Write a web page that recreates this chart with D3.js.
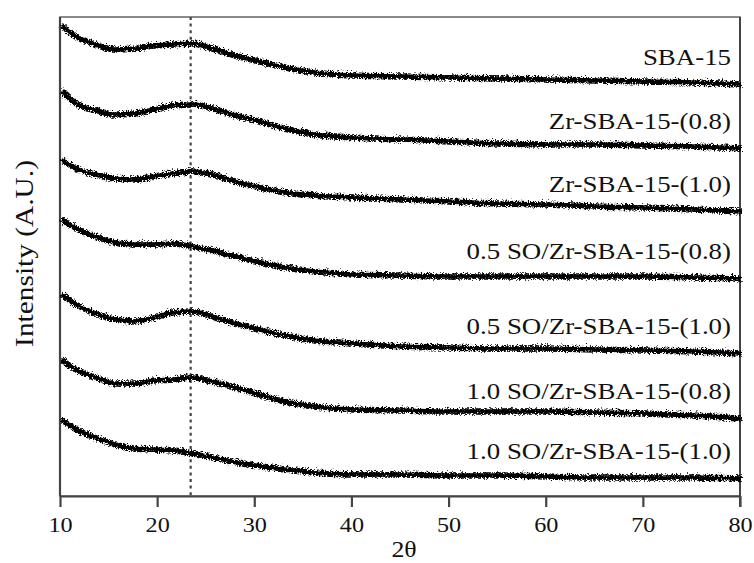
<!DOCTYPE html>
<html>
<head>
<meta charset="utf-8">
<script src="https://cdn.jsdelivr.net/npm/d3@7"></script>
<style>
  body { margin: 0; background: #fff; }
  svg text { font-family: "Liberation Serif", "Times New Roman", serif; fill: #111; }
</style>
</head>
<body>
<div id="xrd"></div>
<script>
// 2 theta positions (deg) where the traces were read
var twoTheta = [10, 11.5, 13.5, 15.5, 17.5, 19.5, 21.5, 23.5, 25.5, 27.5, 30, 33, 36, 40, 45, 50, 55, 60, 65, 70, 75, 80];

// stacked intensities (A.U.), top trace first
var sba15       = [472, 461, 453, 448, 449, 452, 453, 454, 449, 443, 437, 430, 425, 422, 421, 420, 419, 418, 417, 416, 415, 413];
var zrSba08     = [407, 394, 387, 383, 384, 388, 392, 393, 389, 383, 377, 369, 363, 360, 358, 356, 354, 353, 353, 352, 351, 349];
var zrSba10     = [338, 329, 323, 319, 318, 321, 324, 326, 323, 317, 311, 305, 302, 300, 298, 296, 294, 293, 291, 290, 288, 286];
var so05zrSba08 = [278, 269, 261, 255, 253, 253, 254, 251, 247, 242, 236, 230, 226, 223, 222, 221, 221, 221, 221, 221, 220, 219];
var so05zrSba10 = [203, 193, 184, 178, 176, 180, 185, 186, 181, 175, 169, 162, 157, 154, 151, 150, 149, 149, 148, 147, 146, 144];
var so10zrSba08 = [138, 128, 120, 114, 114, 117, 118, 120, 116, 111, 104, 96, 91, 88, 87, 86, 86, 86, 85, 84, 82, 79];
var so10zrSba10 = [78, 68, 60, 53, 49, 48, 47, 44, 40, 36, 32, 28, 25, 23, 23, 22, 22, 21, 20, 20, 20, 19];

var seriesNames = ["SBA-15", "Zr-SBA-15-(0.8)", "Zr-SBA-15-(1.0)", "0.5 SO/Zr-SBA-15-(0.8)",
                   "0.5 SO/Zr-SBA-15-(1.0)", "1.0 SO/Zr-SBA-15-(0.8)", "1.0 SO/Zr-SBA-15-(1.0)"];
var seriesValues = [sba15, zrSba08, zrSba10, so05zrSba08, so05zrSba10, so10zrSba08, so10zrSba10];

var xTicks = [10, 20, 30, 40, 50, 60, 70, 80];
var markerAngle = 23.45;

var margin = {top: 17, right: 14, bottom: 67, left: 60};
var containerWidth = 754, containerHeight = 563;
var chartWidth = containerWidth - margin.left - margin.right;
var chartHeight = containerHeight - margin.top - margin.bottom;

var root = d3.select('#xrd').append('svg')
    .attr('width', containerWidth)
    .attr('height', containerHeight);

// gives the traces their ragged, noisy look
var defs = root.append('defs');
var rough = defs.append('filter').attr('id', 'rough')
    .attr('filterUnits', 'userSpaceOnUse')
    .attr('x', -10).attr('y', -10).attr('width', chartWidth + 20).attr('height', chartHeight + 20);
rough.append('feTurbulence').attr('type', 'turbulence')
    .attr('baseFrequency', '1.2 0.6').attr('numOctaves', 2).attr('seed', 7).attr('result', 'n');
rough.append('feDisplacementMap').attr('in', 'SourceGraphic').attr('in2', 'n')
    .attr('scale', 6).attr('xChannelSelector', 'R').attr('yChannelSelector', 'G');

var svg = root.append('g')
    .attr('transform', `translate(${margin.left}, ${margin.top})`);

var xScale = d3.scaleLinear().domain([10, 80]).range([0, chartWidth]);
var yScale = d3.scaleLinear().domain([0, 479]).range([chartHeight, 0]);

// frame
svg.append('rect')
    .attr('width', chartWidth).attr('height', chartHeight)
    .attr('fill', 'none').attr('stroke', '#666').attr('stroke-width', 1.5);

var xAxis = d3.axisBottom(xScale).tickValues(xTicks).tickSize(11).tickSizeOuter(0).tickPadding(8);
var gx = svg.append('g')
    .attr('class', 'x axis')
    .attr('transform', `translate(0,${chartHeight})`)
    .call(xAxis);
gx.select('.domain').attr('stroke', '#444').attr('stroke-width', 2.2);
gx.selectAll('.tick line').attr('stroke', '#444').attr('stroke-width', 2.2);
gx.selectAll('.tick text')
    .style('font-size', '22px')
    .attr('dy', null).attr('y', 0)
    .attr('transform', 'translate(0,36) scale(1.1,1)');

// left axis line, no ticks
svg.append('line')
    .attr('x1', 0).attr('x2', 0).attr('y1', 0).attr('y2', chartHeight)
    .attr('stroke', '#444').attr('stroke-width', 2.2);
svg.append('line')
    .attr('x1', chartWidth).attr('x2', chartWidth).attr('y1', 0).attr('y2', chartHeight + 11)
    .attr('stroke', '#444').attr('stroke-width', 2);

// dotted reference line
svg.append('line')
    .attr('x1', xScale(markerAngle)).attr('x2', xScale(markerAngle))
    .attr('y1', 0).attr('y2', chartHeight)
    .attr('stroke', '#444').attr('stroke-width', 2.2)
    .attr('stroke-dasharray', '3,3.6');

var line = d3.line()
    .x(function(d, i) { return xScale(twoTheta[i]); })
    .y(function(d) { return yScale(d); })
    .curve(d3.curveMonotoneX);

svg.append('g').attr('filter', 'url(#rough)')
  .selectAll('path')
  .data(seriesValues)
  .enter()
  .append('path')
    .attr('d', line)
    .attr('fill', 'none')
    .attr('stroke', '#000')
    .attr('stroke-width', 5.5)
    .attr('stroke-linejoin', 'round');

// series labels, right aligned above each trace end
svg.selectAll('.series-label')
  .data(seriesNames)
  .enter()
  .append('text')
    .attr('class', 'series-label')
    .attr('text-anchor', 'end')
    .style('font-size', '24px')
    .attr('transform', function(d, i) {
      var v = seriesValues[i][seriesValues[i].length - 1];
      return `translate(${chartWidth - 9}, ${yScale(v) - 18}) scale(1.12,1)`;
    })
    .text(function(d) { return d; });

svg.append('text')
    .attr('text-anchor', 'middle')
    .style('font-size', '23px')
    .attr('transform', `translate(${chartWidth / 2 + 4}, ${chartHeight + 61}) scale(1.12,1)`)
    .text('2θ');

svg.append('text')
    .attr('text-anchor', 'middle')
    .style('font-size', '26px')
    .attr('transform', `translate(-27, ${chartHeight / 2 - 3}) rotate(-90) scale(1.13,1)`)
    .text('Intensity (A.U.)');
</script>
</body>
</html>
